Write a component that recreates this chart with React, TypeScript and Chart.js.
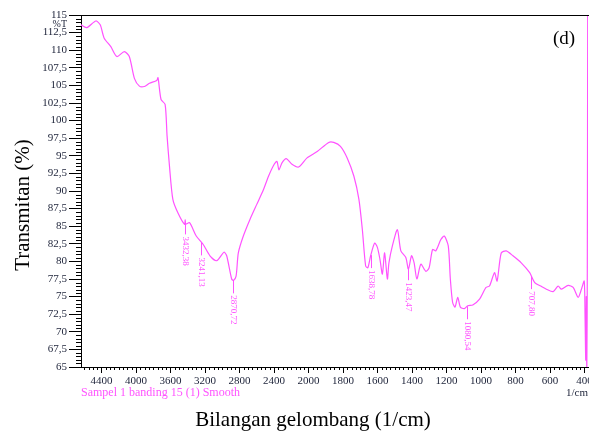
import React, { useEffect, useRef } from "react";
import { Chart, registerables } from "chart.js";

Chart.register(...registerables);

const WAVENUMBERS = [
  4641, 4571, 4466, 4415, 4369, 4292, 4222, 4136, 4078, 4019, 3961, 3903, 3845, 3760, 3745,
  3710, 3663, 3640, 3612, 3573, 3515, 3437, 3430, 3425, 3379, 3302, 3221, 3143, 3065, 2980,
  2949, 2891, 2870, 2840, 2814, 2756, 2678, 2600, 2522, 2464, 2398, 2366, 2343, 2308, 2258,
  2192, 2115, 2017, 1950, 1883, 1854, 1815, 1776, 1737, 1708, 1688, 1669, 1656, 1640, 1617,
  1601, 1586, 1572, 1559, 1543, 1534, 1514, 1485, 1465, 1436, 1421, 1403, 1388, 1372, 1349,
  1320, 1301, 1281, 1262, 1233, 1213, 1190, 1178, 1165, 1151, 1135, 1120, 1097, 1077, 1048,
  1010, 971, 951, 922, 907, 883, 854, 815, 767, 718, 689, 654, 621, 582, 553,
  534, 495, 466, 437, 418, 402, 397, 393, 390, 387, 384, 381.5,
];
const TRANSMITTANCE = [
  113.6, 113.2, 114.15, 113.6, 111.7, 110.5, 109.1, 109.8, 109.1, 106.0, 104.9, 104.85, 105.3, 105.7, 106.1,
  103.0, 102.3, 97.8, 93.5, 88.8, 86.9, 85.25, 85.9, 85.3, 85.5, 83.6, 82.4, 80.8, 80.1, 81.3,
  80.8, 77.5, 77.3, 77.9, 81.2, 83.6, 86.0, 88.1, 90.2, 92.1, 93.8, 94.2, 93.0, 94.0, 94.6,
  93.8, 93.4, 94.7, 95.6, 96.9, 96.9, 96.35, 94.7, 92.1, 88.8, 84.5, 79.35, 79.1, 80.8, 82.6,
  82.0, 80.3, 78.2, 81.2, 77.5, 79.8, 82.2, 84.5, 81.5, 80.55, 78.9, 80.8, 79.8, 77.5, 79.6,
  78.6, 79.1, 81.7, 81.5, 83.1, 83.6, 82.2, 77.5, 74.2, 73.5, 74.9, 73.5, 73.3, 73.7, 73.8,
  74.6, 76.3, 76.5, 78.4, 77.2, 81.2, 81.5, 80.8, 79.8, 78.4, 77.0, 76.5, 76.05, 75.7, 76.5,
  76.05, 76.6, 76.3, 74.9, 76.05, 77.2, 72.0, 66.0, 75.0, 64.0, 79.0, 118,
];

const X_TICKS = [4400, 4000, 3600, 3200, 2800, 2400, 2000, 1800, 1600, 1400, 1200, 1000, 800, 600, 400];
const X_RANGE = [4638, 380];
const Y_MIN = 65;
const Y_MAX = 115;
const Y_STEP = 2.5;

const PEAK_POSITIONS = [3432.38, 3241.13, 2870.72, 1638.78, 1423.47, 1080.54, 707.8];
const PEAK_LABELS = ["3432,38", "3241,13", "2870,72", "1638,78", "1423,47", "1080,54", "707,80"];

const SERIES_NAME = "Sampel 1 banding 15 (1) Smooth";
const X_TITLE = "Bilangan gelombang (1/cm)";
const Y_TITLE = "Transmitan (%)";
const PANEL = "(d)";
const UNIT = "1/cm";

const MAGENTA = "#ff52ff";
const TICK_COLOR = "#1c2238";
const SERIF = "'Liberation Serif', 'Times New Roman', serif";

// FTIR axis with scale change at 2000 1/cm
const toAxis = (w: number) => (w >= 2000 ? (4400 - w) / 400 : 6 + (2000 - w) / 200);
const fromAxis = (u: number) => (u <= 6 ? 4400 - u * 400 : 2000 - (u - 6) * 200);

const interpT = (w: number) => {
  for (let i = 0; i < WAVENUMBERS.length - 1; i++) {
    const a = WAVENUMBERS[i];
    const b = WAVENUMBERS[i + 1];
    if (w <= a && w >= b) {
      const f = (a - w) / (a - b);
      return TRANSMITTANCE[i] + f * (TRANSMITTANCE[i + 1] - TRANSMITTANCE[i]);
    }
  }
  return TRANSMITTANCE[TRANSMITTANCE.length - 1];
};

const decorations = {
  id: "decorations",
  afterDraw(chart: any) {
    const { ctx, chartArea } = chart;
    const xs = chart.scales.x;
    const ys = chart.scales.y;
    ctx.save();
    // top border
    ctx.strokeStyle = "#000";
    ctx.lineWidth = 1;
    ctx.beginPath();
    ctx.moveTo(chartArea.left, Math.round(chartArea.top) + 0.5);
    ctx.lineTo(chart.width, Math.round(chartArea.top) + 0.5);
    ctx.stroke();

    // minor ticks x
    ctx.beginPath();
    for (let i = -1; i < 15; i++) {
      for (let k = 1; k < 8; k++) {
        const v = i + k / 8;
        if (v < xs.min || v > xs.max) continue;
        const px = Math.round(xs.getPixelForValue(v)) + 0.5;
        ctx.moveTo(px, chartArea.bottom);
        ctx.lineTo(px, chartArea.bottom + 3);
      }
    }
    // minor ticks y
    for (let v = Y_MIN; v <= Y_MAX + 0.001; v += 0.5) {
      const r = Math.abs(v / Y_STEP - Math.round(v / Y_STEP));
      if (r < 0.01) continue;
      const py = Math.round(ys.getPixelForValue(v)) + 0.5;
      ctx.moveTo(chartArea.left - 5, py);
      ctx.lineTo(chartArea.left, py);
    }
    ctx.stroke();

    // peak labels
    ctx.strokeStyle = MAGENTA;
    ctx.fillStyle = MAGENTA;
    ctx.font = `9px ${SERIF}`;
    PEAK_POSITIONS.forEach((w, i) => {
      const px = Math.round(xs.getPixelForValue(toAxis(w))) + 0.5;
      const py = ys.getPixelForValue(interpT(w));
      ctx.beginPath();
      ctx.moveTo(px, py);
      ctx.lineTo(px, py + 13);
      ctx.stroke();
      ctx.save();
      ctx.translate(px, py + 15);
      ctx.rotate(Math.PI / 2);
      ctx.textAlign = "left";
      ctx.textBaseline = "middle";
      ctx.fillText(PEAK_LABELS[i], 0, 0);
      ctx.restore();
    });

    // legend / series name
    ctx.fillStyle = MAGENTA;
    ctx.font = `12px ${SERIF}`;
    ctx.textAlign = "left";
    ctx.textBaseline = "middle";
    ctx.fillText(SERIES_NAME, chartArea.left, 393);

    // unit
    ctx.fillStyle = TICK_COLOR;
    ctx.font = `11px ${SERIF}`;
    ctx.fillText(UNIT, 566, 393);

    // %T marker
    ctx.font = `10px ${SERIF}`;
    ctx.textAlign = "right";
    ctx.fillText("%T", 67, 24);

    // titles
    ctx.fillStyle = "#000";
    ctx.font = `21px ${SERIF}`;
    ctx.textAlign = "center";
    ctx.fillText(X_TITLE, 313, 420);
    ctx.save();
    ctx.translate(23, 205);
    ctx.rotate(-Math.PI / 2);
    ctx.fillText(Y_TITLE, 0, 0);
    ctx.restore();

    // panel letter
    ctx.font = `19px ${SERIF}`;
    ctx.textAlign = "center";
    ctx.fillText(PANEL, 564, 39);
    ctx.restore();
  },
};

export default function App() {
  const ref = useRef<HTMLCanvasElement | null>(null);
  useEffect(() => {
    document.body.style.margin = "0";
    const canvas = ref.current;
    if (!canvas) return;
    const points = WAVENUMBERS.map((w, i) => ({ x: toAxis(w), y: TRANSMITTANCE[i] }));
    const chart = new Chart(canvas, {
      type: "line",
      data: {
        datasets: [
          {
            label: SERIES_NAME,
            data: points,
            borderColor: MAGENTA,
            borderWidth: 1.2,
            pointRadius: 0,
            tension: 0.25,
            fill: false,
          },
        ],
      },
      options: {
        animation: false,
        responsive: false,
        devicePixelRatio: 1,
        layout: { autoPadding: false, padding: { left: 0, right: 1, top: 15, bottom: 0 } },
        plugins: { legend: { display: false }, tooltip: { enabled: false } },
        scales: {
          x: {
            type: "linear",
            min: toAxis(X_RANGE[0]),
            max: toAxis(X_RANGE[1]),
            afterBuildTicks: (scale: any) => {
              scale.ticks = X_TICKS.map((t) => ({ value: toAxis(t) }));
            },
            afterFit: (scale: any) => {
              scale.height = 65;
              scale.paddingLeft = 0;
              scale.paddingRight = 0;
            },
            ticks: {
              autoSkip: false,
              maxRotation: 0,
              padding: 2,
              color: TICK_COLOR,
              font: { family: SERIF, size: 11 },
              callback: (v: any) => String(Math.round(fromAxis(Number(v)))),
            },
            grid: { drawOnChartArea: false, drawTicks: true, tickLength: 6, color: "#000" },
            border: { display: true, color: "#000", width: 1 },
          },
          y: {
            type: "linear",
            min: Y_MIN,
            max: Y_MAX,
            afterFit: (scale: any) => {
              scale.width = 81;
              scale.paddingTop = 0;
              scale.paddingBottom = 0;
            },
            ticks: {
              stepSize: Y_STEP,
              autoSkip: false,
              padding: 2,
              color: TICK_COLOR,
              font: { family: SERIF, size: 11 },
              callback: (v: any) => String(Number(v)).replace(".", ","),
            },
            grid: { drawOnChartArea: false, drawTicks: true, tickLength: 12, color: "#000" },
            border: { display: true, color: "#000", width: 1 },
          },
        },
      },
      plugins: [decorations],
    } as any);
    return () => chart.destroy();
  }, []);
  return (
    <div style={{ position: "absolute", left: 0, top: 0, width: 589, height: 432, background: "#fff" }}>
      <canvas ref={ref} width={589} height={432} />
    </div>
  );
}
